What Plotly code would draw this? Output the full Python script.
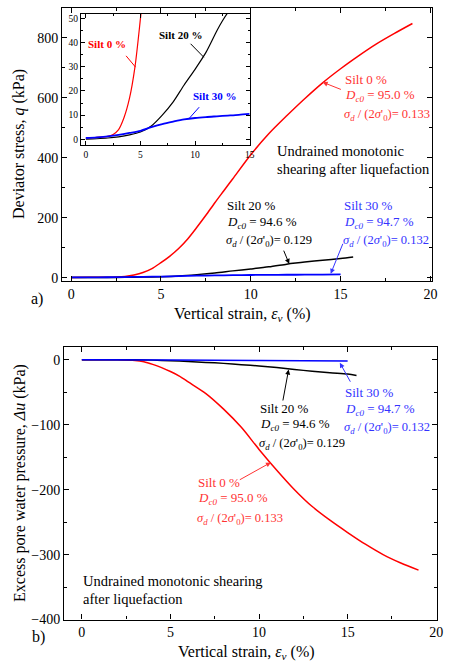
import plotly.graph_objects as go

# ---------------- data ----------------
# (a) deviator stress q (kPa) vs vertical strain (%)
strain_q_s0 = [0, 1, 2, 2.5, 3, 3.5, 4, 4.5, 5, 5.5, 6, 6.5, 7, 7.5, 8, 8.5, 9, 10, 11, 12, 13, 14, 15, 16, 17, 18, 19]
q_s0 = [0.5, 0.8, 1.2, 2, 4, 9, 17, 30, 50, 72, 98, 130, 168, 208, 250, 290, 330, 410, 480, 540, 597, 650, 697, 740, 780, 815, 848]

strain_q_s20 = [0, 1, 2, 3, 4, 5, 6, 7, 8, 9, 10, 11, 12, 12.5, 13, 14, 15, 15.7]
q_s20 = [0, 0.2, 0.5, 1, 1.8, 3, 5.5, 10, 15.5, 22.5, 29, 36, 45, 49, 52.5, 58, 64, 69]

strain_q_s30 = [0, 1, 2, 3, 4, 5, 6, 7, 8, 9, 10, 11, 12, 13, 14, 15]
q_s30 = [0.5, 0.8, 1.2, 1.8, 2.6, 3.5, 5, 6.3, 7.3, 8.2, 8.8, 9.2, 9.5, 9.8, 10.1, 10.5]

# (b) excess pore water pressure du (kPa) vs vertical strain (%)
strain_u_s0 = [0, 2, 3, 3.5, 4, 4.5, 5, 5.5, 6, 7, 8, 9, 10, 11, 12, 13, 14, 15, 16, 17, 18, 19]
u_s0 = [0, 0, -1, -3, -7, -12, -18, -25, -34, -52, -76, -104, -138, -170, -200, -226, -247, -266, -284, -300, -313, -324]

strain_u_s20 = [0, 3, 4, 5, 6, 7, 8, 9, 10, 11, 12, 13, 14, 15, 15.5]
u_s20 = [0, 0, -0.5, -1.5, -2.5, -4, -5.5, -7.5, -9.5, -12, -15, -17.5, -20, -22, -24]

strain_u_s30 = [0, 5, 10, 15]
u_s30 = [0, -0.3, -1, -2]

x_ticks = [0, 5, 10, 15, 20]
q_ticks = [0, 200, 400, 600, 800]
u_ticks = [-400, -300, -200, -100, 0]
inset_x_ticks = [0, 5, 10, 15]
inset_q_ticks = [0, 10, 20, 30, 40, 50]

RED = "#ff0000"
BLUE = "#0000ff"
BLACK = "#000000"
ARED = "#ff3333"
ABLUE = "#3333ff"
FONT = "Liberation Serif"

W, H = 453, 671

def px(x):
    return x / W

def py(y):
    return 1 - y / H

fig = go.Figure()

def line(x, y, color, width, xa, ya):
    fig.add_trace(go.Scatter(x=x, y=y, mode="lines", xaxis=xa, yaxis=ya,
                             line=dict(color=color, width=width, shape="spline", smoothing=0.8)))

# main (a)
line(strain_q_s0, q_s0, RED, 1.5, "x", "y")
line(strain_q_s20, q_s20, BLACK, 1.5, "x", "y")
line(strain_q_s30, q_s30, BLUE, 1.8, "x", "y")
# inset
line(strain_q_s0, q_s0, RED, 1.2, "x3", "y3")
line(strain_q_s20, q_s20, BLACK, 1.2, "x3", "y3")
line(strain_q_s30, q_s30, BLUE, 1.8, "x3", "y3")
# (b)
line(strain_u_s0, u_s0, RED, 1.5, "x2", "y2")
line(strain_u_s20, u_s20, BLACK, 1.5, "x2", "y2")
line(strain_u_s30, u_s30, BLUE, 1.5, "x2", "y2")


def axis(domain, rng, ticks, minor, anchor, size=14, ticklen=5, minlen=3):
    return dict(
        domain=domain, range=rng, tickmode="array", tickvals=ticks,
        ticks="inside", ticklen=ticklen, tickwidth=1, tickcolor=BLACK,
        minor=dict(ticks="inside", ticklen=minlen, dtick=minor, tickcolor=BLACK, tickwidth=1),
        showline=True, linecolor=BLACK, linewidth=1.2, mirror="ticks",
        showgrid=False, zeroline=False, anchor=anchor, ticklabeloverflow="allow",
        tickfont=dict(family=FONT, size=size, color=BLACK),
    )

fig.update_layout(
    width=W, height=H, margin=dict(l=0, r=0, t=0, b=0),
    font=dict(family=FONT, color=BLACK),
    paper_bgcolor="white", plot_bgcolor="white", showlegend=False,
    xaxis=axis([px(63), px(438)], [-0.5, 20.1], x_ticks, 2.5, "y"),
    yaxis=axis([py(284), py(8)], [-10, 900], q_ticks, 100, "x"),
    xaxis2=axis([px(65), px(443)], [-1, 20.05], x_ticks, 2.5, "y2"),
    yaxis2=axis([py(627), py(351)], [-400, 20], u_ticks, 50, "x2"),
    xaxis3=axis([px(82), px(253)], [-0.45, 15], inset_x_ticks, 2.5, "y3", size=9.5, ticklen=4, minlen=2),
    yaxis3=axis([py(147), py(14)], [-2.5, 52], inset_q_ticks, 5, "x3", size=9.5, ticklen=4, minlen=2),
)

ann = []

def text(x, y, s, color=BLACK, size=13, xanchor="left", **kw):
    ann.append(dict(x=px(x), y=py(y), xref="paper", yref="paper", text=s, showarrow=False,
                    xanchor=xanchor, yanchor="middle", borderpad=0,
                    font=dict(family=FONT, size=size, color=color), **kw))

def arrow(xr, yr, x0, y0, x1, y1, color, head=True):
    ann.append(dict(x=x1, y=y1, ax=x0, ay=y0, xref=xr, yref=yr, axref=xr, ayref=yr, text="",
                    showarrow=True, arrowhead=2 if head else 0, arrowsize=1, arrowwidth=1,
                    arrowcolor=color, standoff=0, startstandoff=0))

# axis titles
text(246, 318, "Vertical strain, <i>ε</i><sub><i>v</i></sub> (%)", size=16, xanchor="center")
text(250, 660, "Vertical strain, <i>ε</i><sub><i>v</i></sub> (%)", size=16, xanchor="center")
text(20, 146, "Deviator stress, <i>q</i> (kPa)", size=16, xanchor="center", textangle=-90)
text(20, 489, "Excess pore water pressure, <i>Δu</i> (kPa)", size=16, xanchor="center", textangle=-90)
text(30, 303, "a)", size=16)
text(31, 645, "b)", size=16)

sig = "<i>σ</i><sub><i>d</i></sub> / (2<i>σ</i>'<sub>0</sub>)= "
D = "<i>D</i><sub><i>c0</i></sub> = "
SS = 12.5

# (a) annotations
text(349, 80, "Silt 0 %", ARED)
text(349, 97, D + "95.0 %", ARED)
text(348, 116, sig + "0.133", ARED, size=SS)
arrow("x", "y", 15.1, 626, 14.0, 652, ARED)

text(280, 153, "Undrained monotonic", size=14.5)
text(280, 171, "shearing after liquefaction", size=14.5)

text(229, 208, "Silt 20 %")
text(229, 225, D + "94.6 %")
text(228, 244, sig + "0.129", size=SS)
arrow("x", "y", 11.8, 95, 12.14, 46, BLACK)

text(348, 208, "Silt 30 %", ABLUE)
text(348, 225, D + "94.7 %", ABLUE)
text(347, 244, sig + "0.132", ABLUE, size=SS)
arrow("x", "y", 15.16, 118, 14.45, 13, ABLUE)

# inset labels
text(88, 45, "<b>Silt 0 %</b>", RED, size=11)
text(160, 35, "<b>Silt 20 %</b>", BLACK, size=11)
text(195, 97, "<b>Silt 30 %</b>", BLUE, size=11)
arrow("x3", "y3", 3.57, 35.2, 4.55, 29.9, RED, head=False)
arrow("x3", "y3", 9.46, 40.2, 10.8, 34, BLACK, head=False)
arrow("x3", "y3", 10.5, 13.9, 9.46, 8.6, BLUE, head=False)

# (b) annotations
text(262, 413, "Silt 20 %")
text(262, 430, D + "94.6 %")
text(261, 449, sig + "0.129", size=SS)
arrow("x2", "y2", 11.33, -65, 11.67, -15, BLACK)

text(349, 397, "Silt 30 %", ABLUE)
text(349, 414, D + "94.7 %", ABLUE)
text(348, 433, sig + "0.132", ABLUE, size=SS)
arrow("x2", "y2", 15.2, -36, 14.56, -4.5, ABLUE)

text(200, 488, "Silt 0 %", ARED)
text(200, 505, D + "95.0 %", ARED)
text(199, 525, sig + "0.133", ARED, size=SS)
arrow("x2", "y2", 8.83, -186, 10.67, -158, ARED)

text(83, 588, "Undrained monotonic shearing", size=14.5)
text(83, 606, "after liquefaction", size=14.5)

fig.update_layout(annotations=ann)

fig.write_html(
    "out.html",
    config={"displayModeBar": False},
    post_script="document.body.style.margin='0px';document.body.style.overflow='hidden';",
)
